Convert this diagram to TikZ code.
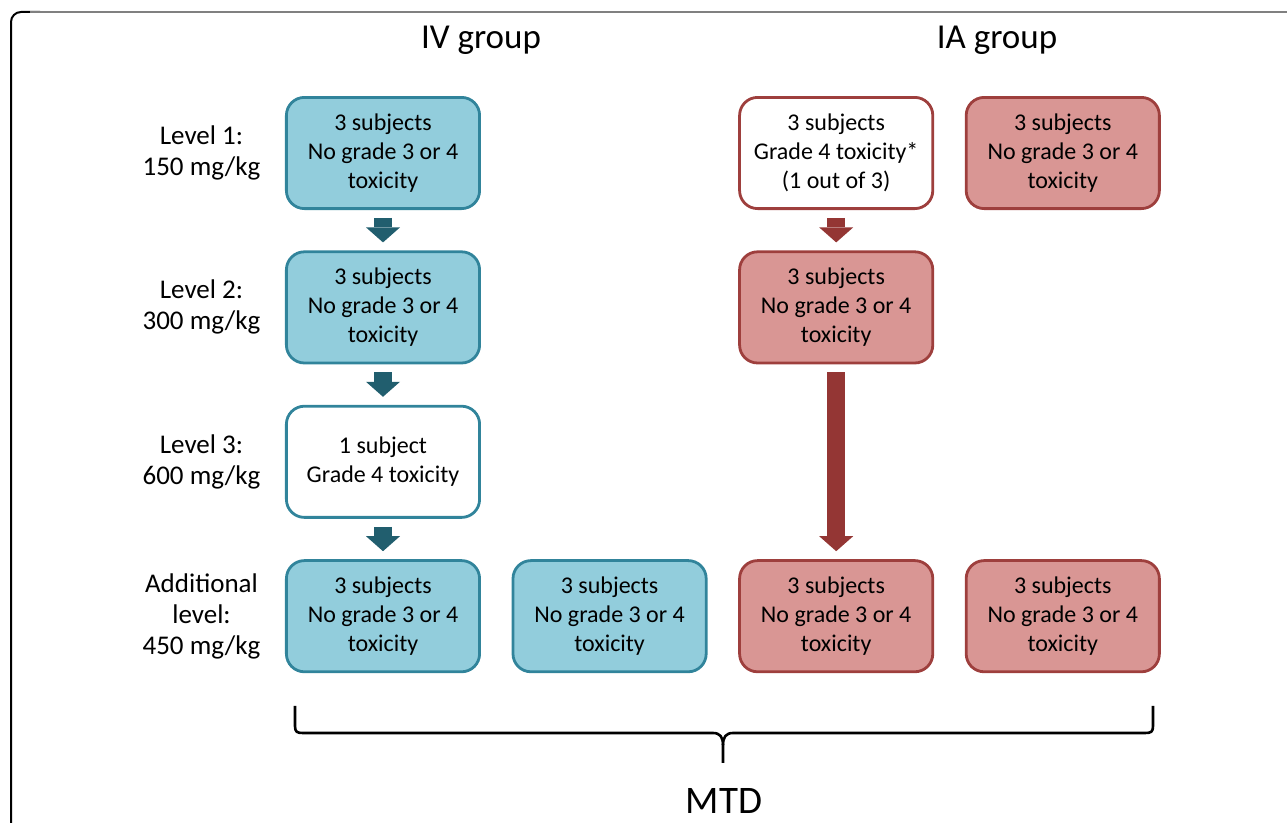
\documentclass[tikz,border=0pt]{standalone}
\usepackage{fontspec}
\setmainfont{Carlito}
\usetikzlibrary{arrows.meta}

\definecolor{ivfill}{HTML}{92CDDC}
\definecolor{ivline}{HTML}{31849B}
\definecolor{ivdark}{HTML}{215E6E}
\definecolor{iafill}{HTML}{D99694}
\definecolor{ialine}{HTML}{9E3F3D}
\definecolor{iadark}{HTML}{943634}

\tikzset{
    box/.style={rounded corners=9pt, line width=1.4pt, minimum width=96.6pt,
                minimum height=55.6pt, inner sep=2pt, align=center,
                font=\fontsize{12}{14.5}\selectfont},
    ivbox/.style={box, draw=ivline, fill=ivfill},
    ivopen/.style={box, draw=ivline, fill=white},
    iabox/.style={box, draw=ialine, fill=iafill},
    iaopen/.style={box, draw=ialine, fill=white},
    lvl/.style={align=center, inner sep=0pt, font=\fontsize{13.5}{15.5}\selectfont},
    grouptitle/.style={font=\fontsize{17.5}{21}\selectfont},
    ivarrow/.style={draw=ivdark, line width=9pt, shorten <=4pt, shorten >=4pt,
                    -{Triangle[width=17pt, length=7.5pt, line width=0pt]}},
    iaarrow/.style={ivarrow, draw=iadark}
}

\begin{document}
\begin{tikzpicture}[x=0.5pt, y=-0.5pt]
    \useasboundingbox (0,0) rectangle (1287,823);

    % frame
    \draw[black, line width=1pt, rounded corners=5pt] (11,823) |- (40,12);
    \draw[gray, line width=1pt] (30,12) -- (1287,12);

    \matrix (m) [matrix anchor=iv1.center, row sep=20.2pt, column sep=15.3pt] at (383,153)
    {
        \node[lvl] (lvl1) {Level 1:\\150 mg/kg}; &[-3pt]
        \node[ivbox] (iv1) {3 subjects\\No grade 3 or 4\\toxicity}; & &
        \node[iaopen] (ia1) {3 subjects\\Grade 4 toxicity*\\(1 out of 3)}; &
        \node[iabox] (ia1b) {3 subjects\\No grade 3 or 4\\toxicity}; \\
        \node[lvl] (lvl2) {Level 2:\\300 mg/kg}; &
        \node[ivbox] (iv2) {3 subjects\\No grade 3 or 4\\toxicity}; & &
        \node[iabox] (ia2) {3 subjects\\No grade 3 or 4\\toxicity}; & \\
        \node[lvl] (lvl3) {Level 3:\\600 mg/kg}; &
        \node[ivopen] (iv3) {1 subject\\Grade 4 toxicity}; & & & \\
        \node[lvl] (lvl4) {Additional\\level:\\450 mg/kg}; &
        \node[ivbox] (iv4) {3 subjects\\No grade 3 or 4\\toxicity}; &
        \node[ivbox] (iv4b) {3 subjects\\No grade 3 or 4\\toxicity}; &
        \node[iabox] (ia4) {3 subjects\\No grade 3 or 4\\toxicity}; &
        \node[iabox] (ia4b) {3 subjects\\No grade 3 or 4\\toxicity}; \\
    };

    % group titles
    \node[grouptitle] (ivtitle) at (481,40) {IV group};
    \node[grouptitle] (iatitle) at (997,40) {IA group};

    % IV arrows
    \draw[ivarrow] (iv1) -- (iv2);
    \draw[ivarrow] (iv2) -- (iv3);
    \draw[ivarrow] (iv3) -- (iv4);

    % IA arrows
    \draw[iaarrow] (ia1) -- (ia2);
    \draw[iaarrow] (ia2) -- (ia4);

    % brace
    \draw[line width=1.3pt] (295,706) -- (295,726) .. controls (295,732) and (297,733) .. (303,733)
        -- (713,733) .. controls (720,733) and (723,737) .. (723,745) -- (723,763);
    \draw[line width=1.3pt] (1153,706) -- (1153,726) .. controls (1153,732) and (1151,733) .. (1145,733)
        -- (733,733) .. controls (726,733) and (723,737) .. (723,745);
    \node[font=\fontsize{19.5}{23}\selectfont] (mtd) at (724,801) {MTD};
\end{tikzpicture}
\end{document}
